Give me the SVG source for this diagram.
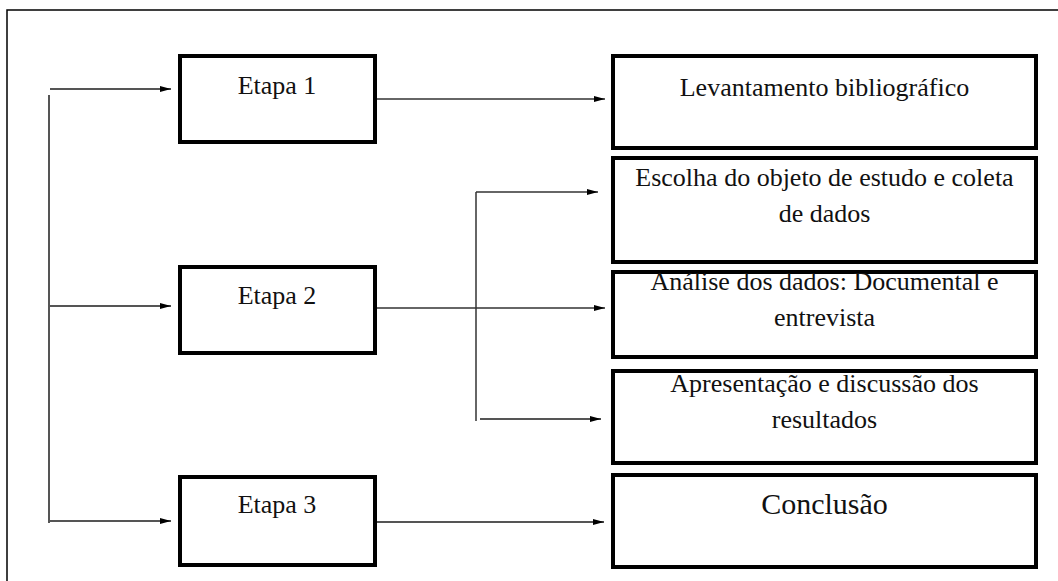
<svg xmlns="http://www.w3.org/2000/svg" width="1058" height="581" viewBox="0 0 1058 581">
<style>
.box{fill:#fff;stroke:#000;stroke-width:4}
.t{font-family:"Liberation Serif","Times New Roman",serif;font-size:26px;fill:#111;text-anchor:middle}
.c{fill:none;stroke:#333;stroke-width:1.5}
.g{fill:none;stroke:#555;stroke-width:2}
</style>
<defs>
<marker id="ah" markerUnits="userSpaceOnUse" markerWidth="12" markerHeight="8" refX="11" refY="4" orient="auto">
<path d="M0,1 L11,4 L0,7 z" fill="#000"/>
</marker>
</defs>
<rect x="7" y="10" width="1060" height="600" fill="#fff" stroke="#000" stroke-width="1.5"/>
<g id="connectors">
<line class="g" x1="49" y1="95" x2="49" y2="523"/>
<line class="g" x1="50" y1="89" x2="171" y2="89" marker-end="url(#ah)"/>
<line class="g" x1="49" y1="306" x2="171" y2="306" marker-end="url(#ah)"/>
<line class="g" x1="49" y1="521" x2="171" y2="521" marker-end="url(#ah)"/>
<line class="c" x1="377" y1="99" x2="605" y2="99" marker-end="url(#ah)"/>
<line class="c" x1="476" y1="192" x2="476" y2="421"/>
<line class="c" x1="476" y1="192" x2="598" y2="192" marker-end="url(#ah)"/>
<line class="c" x1="377" y1="308" x2="605" y2="308" marker-end="url(#ah)"/>
<line class="g" x1="480" y1="419" x2="601" y2="419" marker-end="url(#ah)"/>
<line class="g" x1="377" y1="522" x2="604" y2="522" marker-end="url(#ah)"/>
</g>
<g id="etapa1"><rect class="box" x="180" y="56" width="195" height="86"/><text class="t" x="277" y="94">Etapa 1</text></g>
<g id="etapa2"><rect class="box" x="180" y="267" width="195" height="86"/><text class="t" x="277" y="304">Etapa 2</text></g>
<g id="etapa3"><rect class="box" x="180" y="477" width="195" height="88"/><text class="t" x="277" y="513">Etapa 3</text></g>
<g id="levantamento"><rect class="box" x="613" y="56" width="423" height="92"/><text class="t" x="824.5" y="96">Levantamento bibliográfico</text></g>
<g id="escolha"><rect class="box" x="613" y="158" width="423" height="104"/><text class="t" x="824.5" y="186">Escolha do objeto de estudo e coleta</text><text class="t" x="824.5" y="222">de dados</text></g>
<g id="analise"><rect class="box" x="613" y="272" width="423" height="85"/><text class="t" x="824.5" y="290">Análise dos dados: Documental e</text><text class="t" x="824.5" y="326">entrevista</text></g>
<g id="apresentacao"><rect class="box" x="613" y="371" width="423" height="92"/><text class="t" x="824.5" y="392">Apresentação e discussão dos</text><text class="t" x="824.5" y="428">resultados</text></g>
<g id="conclusao"><rect class="box" x="613" y="475" width="423" height="92"/><text class="t" x="824.5" y="514" style="font-size:30px">Conclusão</text></g>
</svg>
